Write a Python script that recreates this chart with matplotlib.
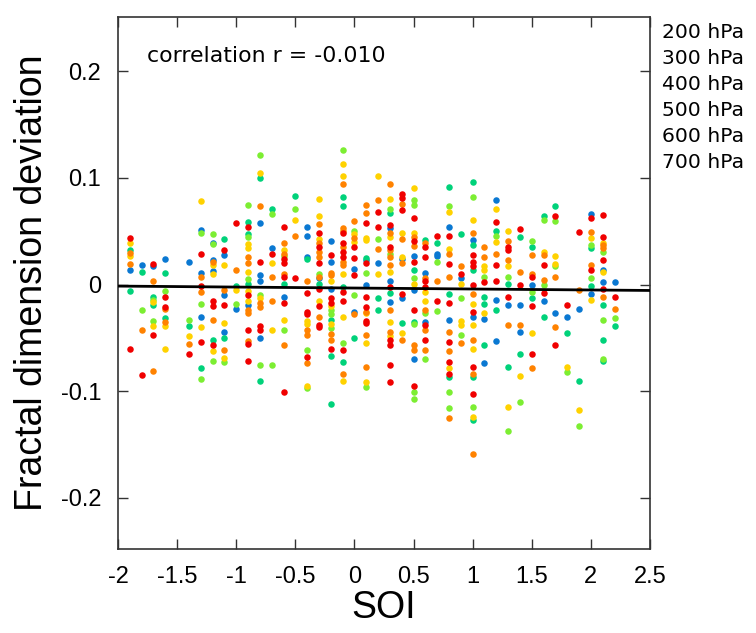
import matplotlib
matplotlib.use('Agg')
import matplotlib.pyplot as plt

# (SOI, fractal dimension deviation), one list per level
pts_200 = [(-1.9, .014), (-1.8, .018), (-1.7, .017), (-1.6, .024), (-1.4, .021), (-1.3, .051), (-1.3, .011),
           (-1.3, -.030), (-1.2, .039), (-1.2, .023), (-1.2, .013), (-1.1, .028), (-1.1, -.010), (-1.1, -.044),
           (-1.0, -.023), (-0.9, -.019), (-0.8, .058), (-0.8, .009), (-0.8, .003), (-0.8, -.050), (-0.7, .034),
           (-0.6, -.012), (-0.4, .054), (-0.4, .046), (-0.4, .026), (-0.3, .006), (-0.2, .041), (-0.2, .021),
           (-0.2, -.004), (0.0, .015), (0.0, -.026), (0.1, .023), (0.1, .000), (0.2, .020), (0.3, .053),
           (0.3, .003), (0.3, -.016), (0.4, .024), (0.4, -.013), (0.5, .027), (0.5, -.005), (0.5, -.070),
           (0.6, .011), (0.6, -.035), (0.7, .029), (0.7, .027), (0.8, .054), (0.8, -.033), (0.9, .006),
           (1.0, .042), (1.0, -.030), (1.1, -.032), (1.1, -.074), (1.2, .079), (1.2, -.014), (1.2, -.053),
           (1.3, -.019), (1.4, -.019), (1.4, -.044), (1.5, .000), (1.6, -.015), (1.7, -.027), (1.8, -.030),
           (1.9, -.023), (2.0, .066), (2.0, -.009), (2.1, .014), (2.1, .002), (2.2, .002)]

pts_300 = [(-1.9, .032), (-1.9, -.006), (-1.8, .012), (-1.7, -.012), (-1.7, -.019), (-1.6, .011), (-1.6, -.031),
           (-1.4, -.039), (-1.3, -.078), (-1.2, -.052), (-1.1, .043), (-1.1, -.050), (-1.0, -.001), (-0.9, .059),
           (-0.9, .047), (-0.9, .001), (-0.8, .100), (-0.8, -.090), (-0.7, .071), (-0.6, .001), (-0.5, .083),
           (-0.4, .024), (-0.3, .001), (-0.2, -.033), (-0.2, -.067), (-0.2, -.112), (-0.1, .082), (-0.1, .074),
           (-0.1, -.002), (-0.1, -.073), (0.0, -.050), (0.1, .025), (0.2, -.013), (0.2, -.024), (0.3, .067),
           (0.3, -.008), (0.4, -.036), (0.5, .014), (0.5, -.035), (0.6, .042), (0.7, .039), (0.8, .092),
           (0.8, -.009), (0.8, -.087), (0.9, .047), (1.0, .096), (1.0, .037), (1.0, .014), (1.0, -.087),
           (1.0, -.127), (1.1, -.012), (1.1, -.018), (1.1, -.057), (1.2, .050), (1.2, -.024), (1.3, .001),
           (1.3, -.077), (1.4, .045), (1.4, -.065), (1.5, .035), (1.5, -.013), (1.6, .064), (1.6, -.030),
           (1.7, .074), (1.8, -.045), (1.9, -.090), (2.0, .034), (2.0, -.001), (2.1, -.019), (2.1, -.052),
           (2.1, -.072), (2.2, -.039)]

pts_400 = [(-1.8, -.024), (-1.7, -.014), (-1.7, -.034), (-1.6, -.006), (-1.4, -.033), (-1.3, .048), (-1.3, -.018),
           (-1.3, -.089), (-1.2, .047), (-1.2, .038), (-1.2, -.072), (-1.1, -.073), (-1.0, -.018), (-0.9, .075),
           (-0.9, .045), (-0.9, .005), (-0.8, .122), (-0.8, -.010), (-0.8, -.075), (-0.7, .066), (-0.7, -.075),
           (-0.6, .027), (-0.6, -.043), (-0.5, .071), (-0.4, -.061), (-0.4, -.097), (-0.3, .010), (-0.2, -.024),
           (-0.2, -.028), (-0.2, -.041), (-0.1, .126), (-0.1, -.055), (0.0, .050), (0.0, -.010), (0.1, .011),
           (0.1, -.096), (0.2, .043), (0.3, .071), (0.3, .029), (0.5, .079), (0.5, .075), (0.5, .006),
           (0.5, -.037), (0.5, -.101), (0.5, -.107), (0.6, -.027), (0.6, -.070), (0.7, .021), (0.7, -.025),
           (0.8, .074), (0.8, -.101), (0.8, -.116), (0.9, -.013), (0.9, -.047), (1.0, .082), (1.0, -.115),
           (1.1, .007), (1.2, .046), (1.3, .007), (1.3, -.137), (1.4, -.110), (1.5, .041), (1.5, -.007),
           (1.6, .061), (1.6, .000), (1.7, .060), (1.7, .017), (1.8, -.082), (1.9, -.133), (2.0, .037),
           (2.0, .006), (2.1, .031), (2.1, -.033), (2.1, -.070), (2.2, -.031)]

pts_500 = [(-1.9, .039), (-1.9, .027), (-1.7, -.016), (-1.7, -.039), (-1.6, -.039), (-1.6, -.060), (-1.4, -.048),
           (-1.3, .078), (-1.3, -.040), (-1.2, .018), (-1.2, .010), (-1.2, -.062), (-1.1, .018), (-1.1, -.036),
           (-1.1, -.069), (-1.0, -.005), (-0.9, .038), (-0.9, .034), (-0.9, .012), (-0.9, -.006), (-0.9, -.015),
           (-0.8, .105), (-0.8, -.013), (-0.7, .020), (-0.7, -.043), (-0.6, .032), (-0.6, -.033), (-0.5, .061),
           (-0.4, -.034), (-0.4, -.037), (-0.4, -.095), (-0.3, .080), (-0.3, .064), (-0.3, .043), (-0.3, -.015),
           (-0.2, .003), (-0.2, -.020), (-0.2, -.037), (-0.1, .113), (-0.1, .102), (-0.1, .010), (-0.1, -.030),
           (-0.1, -.090), (0.0, .047), (0.0, .040), (0.1, .044), (0.1, .042), (0.1, -.027), (0.1, -.055),
           (0.1, -.091), (0.2, .102), (0.2, .010), (0.3, .080), (0.3, .045), (0.3, .012), (0.3, -.035),
           (0.3, -.048), (0.4, .048), (0.4, .026), (0.4, -.045), (0.5, .091), (0.5, .048), (0.5, .001),
           (0.6, -.007), (0.6, -.015), (0.8, .068), (0.8, .033), (0.8, -.078), (0.9, .001), (0.9, -.034),
           (0.9, -.038), (1.0, .061), (1.0, -.018), (1.0, -.038), (1.0, -.060), (1.0, -.124), (1.1, .017),
           (1.1, .014), (1.1, -.027), (1.2, .071), (1.2, .040), (1.3, .050), (1.3, .017), (1.3, -.115),
           (1.4, -.086), (1.5, -.045), (1.6, .031), (1.7, .027), (1.7, .019), (1.8, -.077), (1.9, -.118),
           (2.0, .044), (2.0, -.014), (2.1, .039), (2.1, .012)]

pts_600 = [(-1.9, .030), (-1.9, .019), (-1.8, -.043), (-1.7, .003), (-1.7, -.081), (-1.6, -.023), (-1.6, -.035),
           (-1.4, -.056), (-1.3, .007), (-1.3, -.007), (-1.2, .021), (-1.2, -.033), (-1.1, -.005), (-1.1, -.061),
           (-1.0, .014), (-0.9, .026), (-0.9, .020), (-0.9, -.024), (-0.9, -.027), (-0.9, -.053), (-0.8, .074),
           (-0.8, -.017), (-0.8, -.021), (-0.7, .007), (-0.7, -.015), (-0.6, .039), (-0.6, .029), (-0.6, .010),
           (-0.6, -.057), (-0.5, .046), (-0.4, .003), (-0.4, -.043), (-0.4, -.047), (-0.4, -.074), (-0.3, .057),
           (-0.3, .039), (-0.3, .031), (-0.3, .026), (-0.3, .007), (-0.3, -.030), (-0.2, .011), (-0.2, .009),
           (-0.2, -.046), (-0.2, -.052), (-0.1, .094), (-0.1, .053), (-0.1, .050), (-0.1, .035), (-0.1, .021),
           (-0.1, .018), (-0.1, -.084), (0.0, .060), (0.0, .044), (0.0, -.028), (0.1, .075), (0.1, .067),
           (0.1, -.026), (0.1, -.047), (0.1, -.077), (0.2, .079), (0.2, .033), (0.3, .094), (0.3, .048),
           (0.3, .032), (0.3, .026), (0.3, .018), (0.3, -.024), (0.3, -.044), (0.4, .076), (0.4, .043),
           (0.4, .020), (0.4, -.052), (0.5, .045), (0.5, .036), (0.5, -.057), (0.5, -.061), (0.6, .039),
           (0.6, .006), (0.6, -.024), (0.6, -.043), (0.6, -.061), (0.7, .003), (0.8, .029), (0.8, .007),
           (0.8, -.044), (0.8, -.062), (0.8, -.125), (0.9, .017), (0.9, -.055), (1.0, .048), (1.0, -.009),
           (1.0, -.052), (1.0, -.084), (1.0, -.159), (1.1, .035), (1.1, .026), (1.2, .029), (1.3, .041),
           (1.3, .023), (1.3, -.038), (1.4, .012), (1.4, -.038), (1.5, .028), (1.5, .010), (1.5, -.078),
           (1.6, .028), (1.6, .004), (1.7, .007), (1.7, -.040), (1.9, -.005), (2.0, .049), (2.0, .018),
           (2.1, .037), (2.1, .034), (2.1, -.012), (2.2, -.023)]

pts_700 = [(-1.9, .044), (-1.9, -.060), (-1.8, -.085), (-1.7, .019), (-1.7, -.047), (-1.6, -.012), (-1.6, -.021),
           (-1.4, -.065), (-1.3, .029), (-1.3, -.001), (-1.3, -.054), (-1.2, -.015), (-1.2, -.020), (-1.2, -.057),
           (-1.1, .032), (-1.1, -.019), (-1.0, .058), (-0.9, .054), (-0.9, -.010), (-0.9, -.043), (-0.9, -.056),
           (-0.9, -.072), (-0.8, .021), (-0.8, -.039), (-0.8, -.043), (-0.7, .029), (-0.6, .054), (-0.6, .024),
           (-0.6, .020), (-0.6, .007), (-0.6, -.017), (-0.6, -.101), (-0.5, .006), (-0.4, -.008), (-0.4, -.026),
           (-0.4, -.028), (-0.4, -.068), (-0.3, .048), (-0.3, .035), (-0.3, .020), (-0.3, -.004), (-0.3, -.020),
           (-0.3, -.038), (-0.3, -.040), (-0.2, .028), (-0.2, -.013), (-0.2, -.017), (-0.2, -.060), (-0.1, .048),
           (-0.1, .039), (-0.1, .031), (-0.1, .026), (-0.1, -.007), (-0.1, -.015), (-0.1, -.061), (0.0, .035),
           (0.0, .025), (0.0, .009), (0.1, .058), (0.1, .020), (0.1, -.012), (0.1, -.021), (0.1, -.034),
           (0.1, -.036), (0.2, .068), (0.2, .054), (0.3, .056), (0.3, .035), (0.3, -.002), (0.3, -.052),
           (0.3, -.057), (0.3, -.075), (0.3, -.091), (0.4, .085), (0.4, .081), (0.4, .070), (0.4, -.009),
           (0.5, .062), (0.5, .041), (0.5, .021), (0.5, -.024), (0.5, -.095), (0.6, .035), (0.6, .026),
           (0.6, .003), (0.6, -.002), (0.6, -.038), (0.6, -.052), (0.7, .046), (0.7, -.015), (0.8, .046),
           (0.8, .019), (0.8, -.017), (0.8, -.054), (0.8, -.073), (0.8, -.084), (0.9, .010), (1.0, .028),
           (1.0, .021), (1.0, .017), (1.0, .000), (1.0, -.026), (1.0, -.077), (1.0, -.103), (1.1, .002),
           (1.2, .059), (1.2, .018), (1.2, .003), (1.3, .035), (1.3, .032), (1.3, -.012), (1.4, .052),
           (1.4, .000), (1.5, .007), (1.5, -.020), (1.5, -.065), (1.6, .018), (1.6, -.008), (1.7, .064),
           (1.7, -.057), (1.8, -.019), (1.9, .049), (2.0, .062), (2.0, .014), (2.1, .065), (2.1, .045),
           (2.1, .023), (2.1, -.004), (2.2, -.012)]

levels = ['200 hPa', '300 hPa', '400 hPa', '500 hPa', '600 hPa', '700 hPa']
colors = ['#0a78d2', '#00d27a', '#7cee32', '#ffd200', '#ff8200', '#f00000']
all_pts = [pts_200, pts_300, pts_400, pts_500, pts_600, pts_700]

# regression line ends
fit_x = [-2.0, 2.5]
fit_y = [-0.0014, -0.0055]
corr_text = 'correlation r = -0.010'

fig = plt.figure(figsize=(7.56, 6.33), dpi=100)
ax = fig.add_axes([118/756, 1 - 549/633, 532/756, 532/633])

for pts, c in zip(all_pts, colors):
    xs = [p[0] for p in pts]
    ys = [p[1] for p in pts]
    ax.scatter(xs, ys, s=22, color=c, linewidths=0, zorder=2)

ax.plot(fit_x, fit_y, color='black', lw=2, zorder=3)

ax.set_xlim(-2, 2.5)
ax.set_ylim(-0.248, 0.251)
ax.set_xticks([-2, -1.5, -1, -0.5, 0, 0.5, 1, 1.5, 2, 2.5])
ax.set_xticklabels(['-2', '-1.5', '-1', '-0.5', '0', '0.5', '1', '1.5', '2', '2.5'])
ax.set_yticks([-0.2, -0.1, 0, 0.1, 0.2])
ax.set_yticklabels(['-0.2', '-0.1', '0', '0.1', '0.2'])

for lab in ax.get_xticklabels() + ax.get_yticklabels():
    lab.set_fontfamily('Liberation Sans')
    lab.set_fontsize(17)
ax.tick_params(direction='in', length=7, width=1, color='#333333', top=True, right=True)
ax.tick_params(axis='x', pad=12)
ax.tick_params(axis='y', pad=12)
for sp in ax.spines.values():
    sp.set_color('#333333')
    sp.set_linewidth(1.2)

ax.set_xlabel('SOI', fontfamily='Liberation Sans', fontsize=27, labelpad=2)
ax.set_ylabel('Fractal dimension deviation', fontfamily='Liberation Sans', fontsize=27, labelpad=8)

fig.text(147/756, 1 - 56/633, corr_text, fontfamily='DejaVu Sans', fontsize=15.8, va='center')
for i, lev in enumerate(levels):
    fig.text(662/756, 1 - (32 + 26*i)/633, lev, fontfamily='DejaVu Sans', fontsize=14.6, va='center')

plt.savefig('out.png', dpi=100)
